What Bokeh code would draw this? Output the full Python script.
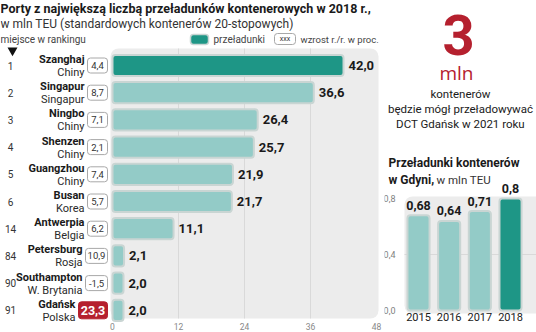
from bokeh.plotting import figure
from bokeh.layouts import row
from bokeh.models import Range1d
from bokeh.core.properties import value
from bokeh.embed import file_html
from bokeh.resources import INLINE

# ---------------- data ----------------
ranks = ["1", "2", "3", "4", "5", "6", "14", "84", "90", "91"]
ports = ["Szanghaj", "Singapur", "Ningbo", "Shenzen", "Guangzhou", "Busan",
         "Antwerpia", "Petersburg", "Southampton", "Gdańsk"]
countries = ["Chiny", "Singapur", "Chiny", "Chiny", "Chiny", "Korea",
             "Belgia", "Rosja", "W. Brytania", "Polska"]
throughput = [42.0, 36.6, 26.4, 25.7, 21.9, 21.7, 11.1, 2.1, 2.0, 2.0]
growth = [4.4, 8.7, 7.1, 2.1, 7.4, 5.7, 6.2, 10.9, -1.5, 23.3]
x_ticks = [0, 12, 24, 36, 48]

years = ["2015", "2016", "2017", "2018"]
gdynia = [0.68, 0.64, 0.71, 0.8]
gdynia_ticks = [0.0, 0.4, 0.8]

# ---------------- styles ----------------
FONT = value("Roboto")
WIDE = value("Open Sans")
DARK = "#1e9686"
LIGHT = "#93cbc7"
EDGE = "#c9d5d3"
PANEL = "#ececec"
GRID = "#d9d9d9"
RED = "#b5202e"
INK = "#1a1a1a"


def pl(v, fmt="{:.1f}"):
    return fmt.format(v).replace(".", ",")


# pixel helpers (layout positions only)
def xv(px):
    return (px - 112) / 5.5


def yr(px):
    return (px - 65) / 27.2


def base_fig(w, xr, yr_):
    f = figure(width=w, height=332, x_range=xr, y_range=yr_, output_backend="svg",
               toolbar_location=None, x_axis_location=None, y_axis_location=None,
               min_border=0, min_border_left=0, min_border_right=0,
               min_border_top=0, min_border_bottom=0, outline_line_color=None,
               background_fill_color="white", border_fill_color="white")
    f.grid.visible = False
    return f


def label(f, x, y, txt, size, bold=False, color=INK, align="left", font=FONT):
    f.text(x=[x], y=[y], text=[txt], text_align=align, text_baseline="middle",
           text_font=font, text_font_style="bold" if bold else "normal",
           text_font_size=size, text_color=color)


# ---------------- left chart ----------------
p = base_fig(384, Range1d(xv(0), xv(384)), Range1d(yr(332), yr(0)))

p.quad(left=[xv(110)], right=[xv(378)], top=[yr(48)], bottom=[yr(318)],
       fill_color=PANEL, line_color=None, border_radius=8)
p.segment(x0=x_ticks[1:4], x1=x_ticks[1:4], y0=yr(48), y1=yr(318),
          line_color=GRID, line_width=1)

idx = list(range(len(ports)))
bar_colors = [DARK] + [LIGHT] * (len(ports) - 1)
p.hbar(y=idx, left=0, right=throughput, height=0.78, fill_color=bar_colors,
       line_color=EDGE, line_width=2, border_radius=3)
p.text(x=throughput, y=idx, text=[pl(v) for v in throughput], x_offset=5,
       text_baseline="middle", text_font=FONT, text_font_style="bold",
       text_font_size="13px", text_color=INK)

p.text(x=xv(10), y=idx, text=ranks, text_align="center", text_baseline="middle",
       text_font=FONT, text_font_size="10px", text_color="#333333")

# growth boxes
g_text = [pl(v) for v in growth]
g_red = [i == len(growth) - 1 for i in idx]
g_w = [29 if r else (20 if len(t) <= 3 else 22) for t, r in zip(g_text, g_red)]
g_left = [xv(107 - w) for w in g_w]
g_right = [xv(107)] * len(idx)
g_h = [(8.5 if r else 7.5) / 27.2 for r in g_red]
p.quad(left=g_left, right=g_right, top=[i - h for i, h in zip(idx, g_h)],
       bottom=[i + h for i, h in zip(idx, g_h)],
       fill_color=[RED if r else "white" for r in g_red],
       line_color=[RED if r else "#a8a8a8" for r in g_red], line_width=1,
       border_radius=3)
norm = [i for i in idx if not g_red[i]]
p.text(x=[(g_left[i] + g_right[i]) / 2 for i in norm], y=norm,
       text=[g_text[i] for i in norm], text_align="center", text_baseline="middle",
       text_font=FONT, text_font_size="9.5px", text_color="#333333")
red = [i for i in idx if g_red[i]]
p.text(x=[(g_left[i] + g_right[i]) / 2 for i in red], y=red,
       text=[g_text[i] for i in red], text_align="center", text_baseline="middle",
       text_font=FONT, text_font_style="bold", text_font_size="12.5px",
       text_color="white")

# port names, right-aligned just left of their growth box
name_x = [gl - 3 / 5.5 for gl in g_left]
p.text(x=name_x, y=idx, text=ports, y_offset=-6, text_align="right",
       text_baseline="middle", text_font=FONT, text_font_style="bold",
       text_font_size="11px", text_color=INK)
p.text(x=name_x, y=idx, text=countries, y_offset=7, text_align="right",
       text_baseline="middle", text_font=FONT, text_font_size="11px",
       text_color="#2a2a2a")

# x tick labels
p.text(x=x_ticks, y=yr(326), text=[str(t) for t in x_ticks], text_align="center",
       text_baseline="middle", text_font=FONT, text_font_size="8.5px",
       text_color="#888888")

# titles and legend
label(p, xv(0), yr(8), "Porty z największą liczbą przeładunków kontenerowych w 2018 r.,",
      "12.5px", bold=True)
label(p, xv(0), yr(23), "w mln TEU (standardowych kontenerów 20-stopowych)",
      "12px", color="#333333")
label(p, xv(0), yr(39), "miejsce w rankingu", "10px", color="#444444")
p.scatter(x=[xv(12)], y=[yr(50)], marker="inverted_triangle", size=10,
          fill_color="#111111", line_color=None)
p.quad(left=[xv(190)], right=[xv(208)], top=[yr(34)], bottom=[yr(44)],
       fill_color=DARK, line_color=EDGE, line_width=1.5, border_radius=3)
label(p, xv(213), yr(38.5), "przeładunki", "10px", color="#444444")
p.quad(left=[xv(274)], right=[xv(295)], top=[yr(33)], bottom=[yr(44)],
       fill_color="white", line_color="#a8a8a8", line_width=1, border_radius=3)
label(p, xv(284.5), yr(38.5), "xxx", "7px", color="#333333", align="center")
label(p, xv(300), yr(38.5), "wzrost r./r. w proc.", "9.5px", color="#444444")


# ---------------- right chart ----------------
def xj(px):
    return (px - 418) / 30.67


def yv(px):
    return (310 - px) / 140


q = base_fig(152, Range1d(xj(384), xj(536)), Range1d(yv(332), yv(0)))

label(q, xj(458), yv(34), "3", "56px", bold=True, color=RED, align="center")
label(q, xj(456), yv(72), "mln", "19px", color=RED, align="center", font=WIDE)
label(q, xj(460), yv(93), "kontenerów", "11.5px", align="center")
label(q, xj(460), yv(108), "będzie mógł przeładowywać", "11.5px", align="center")
label(q, xj(460), yv(123), "DCT Gdańsk w 2021 roku", "11.5px", align="center")
label(q, xj(388), yv(162), "Przeładunki kontenerów", "12px", bold=True)
label(q, xj(388), yv(179), "w Gdyni,", "12px", bold=True)
label(q, xj(436), yv(179), "w mln TEU", "11.5px", color="#333333")

q.quad(left=[xj(404)], right=[xj(545)], top=[yv(196)], bottom=[yv(313)],
       fill_color=PANEL, line_color=None, border_radius=8)
q.segment(x0=[xj(404)], x1=[xj(536)], y0=[gdynia_ticks[1]], y1=[gdynia_ticks[1]],
          line_color=GRID, line_width=1)
jx = list(range(len(years)))
q.vbar(x=jx, bottom=0, top=gdynia, width=0.72,
       fill_color=[LIGHT] * (len(years) - 1) + [DARK], line_color=EDGE,
       line_width=2, border_radius=3)
q.text(x=jx, y=gdynia, text=[pl(v, "{:g}") for v in gdynia], y_offset=-10,
       text_align="center", text_baseline="middle", text_font=FONT,
       text_font_style="bold", text_font_size="12.5px", text_color=INK)
q.text(x=jx, y=[0] * len(years), text=years, y_offset=6, text_align="center",
       text_baseline="middle", text_font=FONT, text_font_size="11px",
       text_color=INK)
q.text(x=[xj(395)] * len(gdynia_ticks), y=gdynia_ticks,
       text=[pl(t) for t in gdynia_ticks], text_align="right", text_baseline="middle",
       text_font=FONT, text_font_size="9px", text_color="#808080")

layout = row(p, q, spacing=0)
open("out.html", "w").write(file_html(layout, INLINE))
